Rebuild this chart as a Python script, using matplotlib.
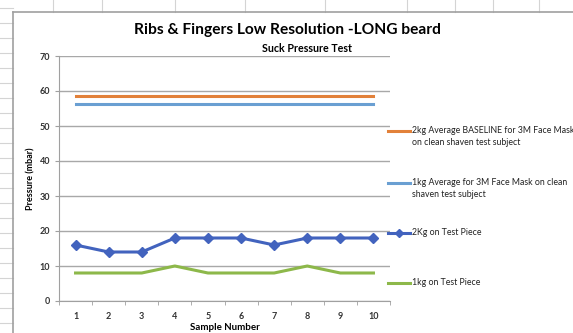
import matplotlib.pyplot as plt
from matplotlib.lines import Line2D

samples = list(range(1, 11))
baseline_2kg = [58.6] * 10
baseline_1kg = [56.4] * 10
test_2kg = [16, 14, 14, 18, 18, 18, 16, 18, 18, 18]
test_1kg = [8, 8, 8, 10, 8, 8, 8, 10, 8, 8]

labels = ['2kg Average BASELINE for 3M Face Mask\non clean shaven test subject',
          '1kg Average for 3M Face Mask on clean\nshaven test subject',
          '2Kg on Test Piece',
          '1kg on Test Piece']
colors = ['#E2813A', '#6A9FD2', '#4263BE', '#8DB84A']

W, H = 573, 333
fig = plt.figure(figsize=(W / 100, H / 100), dpi=100)
plt.rcParams['font.family'] = ['Lato', 'DejaVu Sans']

def fx(x):
    return x / W

def fy(y):
    return 1 - y / H

# spreadsheet cells behind the chart
gc = '#D4D4D4'
for y in range(8, 340, 15):
    fig.add_artist(Line2D([0, fx(13)], [fy(y), fy(y)], color=gc, lw=0.8))
for x in [53, 102, 175, 245, 325, 407, 455, 493, 539]:
    fig.add_artist(Line2D([fx(x), fx(x)], [1, fy(12)], color=gc, lw=0.8))
# chart border
fig.add_artist(Line2D([fx(13), fx(13)], [0, fy(12)], color='#A0A0A0', lw=1.2))
fig.add_artist(Line2D([fx(13), 1], [fy(12), fy(12)], color='#A0A0A0', lw=1.2))

ax = fig.add_axes([fx(59), fy(301), fx(390 - 59), (301 - 56) / H])
ax.plot(samples, baseline_2kg, color=colors[0], lw=2.2)
ax.plot(samples, baseline_1kg, color=colors[1], lw=2.2)
ax.plot(samples, test_2kg, color=colors[2], lw=2.2, marker='D', ms=5)
ax.plot(samples, test_1kg, color=colors[3], lw=2.2)

ax.set_xlim(0.5, 10.5)
ax.set_ylim(0, 70)
ax.set_xticks(samples)
ax.set_xticks([x + 0.5 for x in range(0, 11)], minor=True)
ax.set_yticks(range(0, 71, 10))
ax.yaxis.grid(True, color='#A8A8A8', lw=1)
ax.set_axisbelow(True)
for s in ['top', 'right']:
    ax.spines[s].set_visible(False)
for s in ['left', 'bottom']:
    ax.spines[s].set_color('#A0A0A0')
ax.tick_params(axis='x', which='major', length=0, labelsize=6.5, pad=8)
ax.tick_params(axis='x', which='minor', length=3, color='#A0A0A0', direction='out')
ax.tick_params(axis='y', length=3, color='#A0A0A0', labelsize=6.5)
for t in ax.get_xticklabels() + ax.get_yticklabels():
    t.set_fontweight('bold')
    t.set_color('#333333')
ax.set_xlabel('Sample Number', fontsize=7, fontweight='bold', labelpad=1)
ax.set_ylabel('Pressure (mbar)', fontsize=6.5, fontweight='bold', labelpad=3)

fig.text(fx(287), fy(30), 'Ribs & Fingers Low Resolution -LONG beard',
         ha='center', va='center', fontsize=11.2, fontweight='bold')
fig.text(fx(307), fy(49), 'Suck Pressure Test', ha='center', va='center',
         fontsize=7.7, fontweight='bold')

# legend
leg_y = [131, 183, 233, 283]
for lab, c, y, i in zip(labels, colors, leg_y, range(4)):
    ln = Line2D([fx(388), fx(410)], [fy(y), fy(y)], color=c, lw=2.2)
    fig.add_artist(ln)
    if i == 2:
        fig.add_artist(Line2D([fx(399)], [fy(y)], color=c, marker='D', ms=4))
    fig.text(fx(412), fy(y - 5), lab, ha='left', va='top', fontsize=6.3,
             linespacing=1.45, color='#222222')

fig.savefig('out.png', dpi=100)
